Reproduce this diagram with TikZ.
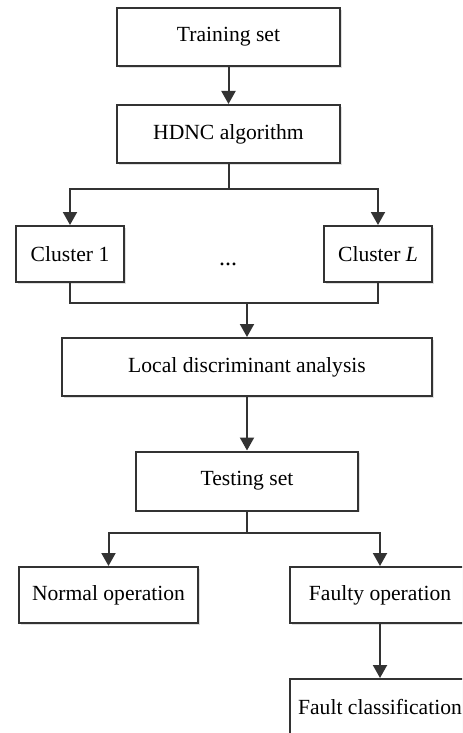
\documentclass[tikz,border=0pt]{standalone}
\usepackage{fontspec}
\setmainfont{Liberation Serif}
\usetikzlibrary{positioning, calc, arrows.meta, shadows}
\definecolor{Dark}{HTML}{333333}
\tikzset{
    flowbox/.style={rectangle, draw=Dark, line width=1pt, fill=white, text=black, align=center,
        font=\fontsize{10.8}{13}\selectfont, inner sep=0pt,
        drop shadow={opacity=0.25, shadow xshift=0.8pt, shadow yshift=-0.8pt}},
    arrow/.style={-{Triangle[length=6.5pt, width=7pt]}, line width=1pt, color=Dark},
    joint/.style={line width=1pt, color=Dark},
}

\begin{document}
\begin{tikzpicture}[x=0.5pt, y=-0.5pt]
    % Cornice
    \clip (0,0) rectangle (462,733);
    \useasboundingbox (0,0) rectangle (462,733);

    % Blocchi
    \node[flowbox, minimum width=111.5pt, minimum height=29pt] (train) at (228.5,37) {Training set};
    \node[flowbox, minimum width=111.5pt, minimum height=29pt] (hdnc) at (228.5,134) {HDNC algorithm};
    \node[flowbox, minimum width=54pt, minimum height=28pt] (clusterA) at (70,254) {Cluster 1};
    \node[flowbox, minimum width=54pt, minimum height=28pt] (clusterL) at (378,254) {Cluster \textit{L}};
    \node[font=\fontsize{12}{14}\selectfont] (dots) at (228,264) {...};
    \node[flowbox, minimum width=185pt, minimum height=29pt] (lda) at (247,367) {Local discriminant analysis};
    \node[flowbox, minimum width=111pt, minimum height=29.5pt] (test) at (247,481) {Testing set};
    \node[flowbox, minimum width=89.5pt, minimum height=28pt] (normal) at (108.5,595) {Normal operation};
    \node[flowbox, minimum width=90pt, minimum height=28pt] (faulty) at (380,595) {Faulty operation};
    \node[flowbox, minimum width=90pt, minimum height=28pt] (fclass) at (380,707) {Fault classification};

    % Punti di diramazione
    \coordinate (split) at (229,189);
    \coordinate (merge) at (247,303);
    \coordinate (branch) at (247,533);

    % Collegamenti
    \draw[arrow] (train) -- (hdnc);
    \draw[arrow] (hdnc.south) -- (hdnc.south |- split) -| (clusterA.north);
    \draw[arrow] (hdnc.south |- split) -| (clusterL.north);
    \draw[joint] (clusterA.south) |- (clusterL.south |- merge) -- (clusterL.south);
    \draw[arrow] (merge) -- (lda.north);
    \draw[arrow] (lda) -- (test);
    \draw[joint] (test.south) -- (branch);
    \draw[arrow] (branch) -| (normal.north);
    \draw[arrow] (branch) -| (faulty.north);
    \draw[arrow] (faulty) -- (fclass);
\end{tikzpicture}
\end{document}
